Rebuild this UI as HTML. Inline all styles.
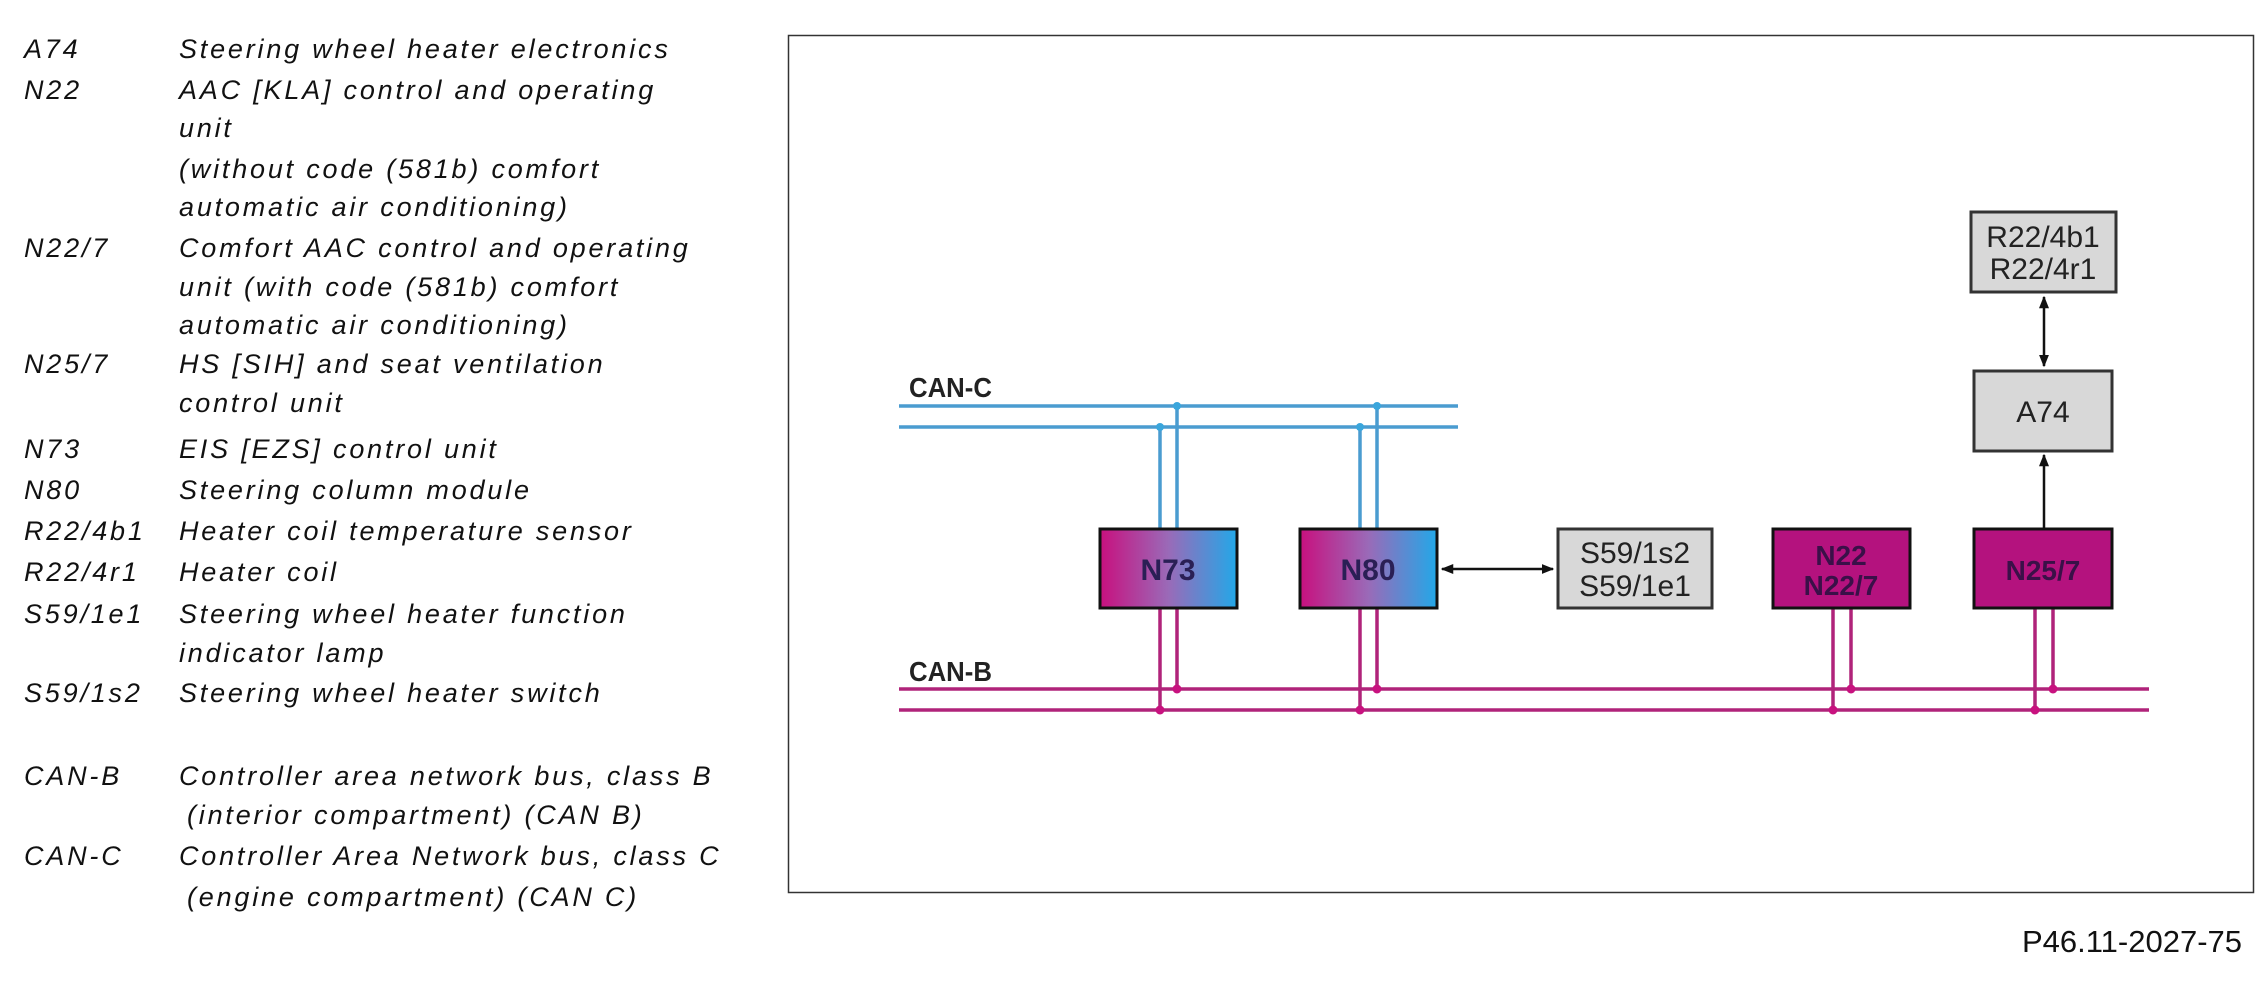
<!DOCTYPE html>
<html><head><meta charset="utf-8"><style>
html,body{margin:0;padding:0;background:#fff;}
body{width:2268px;height:988px;position:relative;overflow:hidden;font-family:"Liberation Sans",sans-serif;}
.l{position:absolute;font-style:italic;font-size:27px;letter-spacing:2.8px;color:#111;white-space:nowrap;line-height:30px;}
</style></head><body>
<div class="l" style="left:24px;top:34px">A74</div><div class="l" style="left:179px;top:34px">Steering wheel heater electronics</div>
<div class="l" style="left:24px;top:75px">N22</div><div class="l" style="left:179px;top:75px">AAC [KLA] control and operating</div>
<div class="l" style="left:179px;top:113px">unit</div>
<div class="l" style="left:179px;top:154px">(without code (581b) comfort</div>
<div class="l" style="left:179px;top:192px">automatic air conditioning)</div>
<div class="l" style="left:24px;top:233px">N22/7</div><div class="l" style="left:179px;top:233px">Comfort AAC control and operating</div>
<div class="l" style="left:179px;top:272px">unit (with code (581b) comfort</div>
<div class="l" style="left:179px;top:310px">automatic air conditioning)</div>
<div class="l" style="left:24px;top:349px">N25/7</div><div class="l" style="left:179px;top:349px">HS [SIH] and seat ventilation</div>
<div class="l" style="left:179px;top:388px">control unit</div>
<div class="l" style="left:24px;top:434px">N73</div><div class="l" style="left:179px;top:434px">EIS [EZS] control unit</div>
<div class="l" style="left:24px;top:475px">N80</div><div class="l" style="left:179px;top:475px">Steering column module</div>
<div class="l" style="left:24px;top:516px">R22/4b1</div><div class="l" style="left:179px;top:516px">Heater coil temperature sensor</div>
<div class="l" style="left:24px;top:557px">R22/4r1</div><div class="l" style="left:179px;top:557px">Heater coil</div>
<div class="l" style="left:24px;top:599px">S59/1e1</div><div class="l" style="left:179px;top:599px">Steering wheel heater function</div>
<div class="l" style="left:179px;top:638px">indicator lamp</div>
<div class="l" style="left:24px;top:678px">S59/1s2</div><div class="l" style="left:179px;top:678px">Steering wheel heater switch</div>
<div class="l" style="left:24px;top:761px">CAN-B</div><div class="l" style="left:179px;top:761px">Controller area network bus, class B</div>
<div class="l" style="left:187px;top:800px">(interior compartment) (CAN B)</div>
<div class="l" style="left:24px;top:841px">CAN-C</div><div class="l" style="left:179px;top:841px">Controller Area Network bus, class C</div>
<div class="l" style="left:187px;top:882px">(engine compartment) (CAN C)</div>

<svg width="2268" height="988" style="position:absolute;left:0;top:0" xmlns="http://www.w3.org/2000/svg">
<defs>
<linearGradient id="g" x1="0" x2="1" y1="0" y2="0">
<stop offset="0" stop-color="#c8107e"/><stop offset="0.5" stop-color="#9a6ab8"/><stop offset="1" stop-color="#22a8e8"/>
</linearGradient>
<marker id="a" viewBox="0 0 10 10" refX="9" refY="5" markerWidth="5" markerHeight="5" orient="auto-start-reverse"><path d="M0,1 L10,5 L0,9z" fill="#111"/></marker>
</defs>
<rect x="788.5" y="35.5" width="1465" height="857" fill="none" stroke="#333" stroke-width="1.5"/>
<text x="909" y="397" font-family="Liberation Sans" font-weight="bold" font-size="28" fill="#222" transform="translate(909,0) scale(0.92,1) translate(-909,0)">CAN-C</text>
<text x="909" y="681" font-family="Liberation Sans" font-weight="bold" font-size="28" fill="#222" transform="translate(909,0) scale(0.92,1) translate(-909,0)">CAN-B</text>
<g stroke="#4a9cd0" stroke-width="3.5">
<line x1="899" y1="406" x2="1458" y2="406"/><line x1="899" y1="427" x2="1458" y2="427"/>
<line x1="1160" y1="427" x2="1160" y2="528"/><line x1="1177" y1="406" x2="1177" y2="528"/>
<line x1="1360" y1="427" x2="1360" y2="528"/><line x1="1377" y1="406" x2="1377" y2="528"/>
</g>
<g fill="#3aa6dc"><circle cx="1160" cy="427" r="4"/><circle cx="1177" cy="406" r="4"/><circle cx="1360" cy="427" r="4"/><circle cx="1377" cy="406" r="4"/></g>
<g stroke="#b0237a" stroke-width="3.5">
<line x1="899" y1="689" x2="2149" y2="689"/><line x1="899" y1="710" x2="2149" y2="710"/>
<line x1="1160" y1="608" x2="1160" y2="710"/><line x1="1177" y1="608" x2="1177" y2="689"/>
<line x1="1360" y1="608" x2="1360" y2="710"/><line x1="1377" y1="608" x2="1377" y2="689"/>
<line x1="1833" y1="608" x2="1833" y2="710"/><line x1="1851" y1="608" x2="1851" y2="689"/>
<line x1="2035" y1="608" x2="2035" y2="710"/><line x1="2053" y1="608" x2="2053" y2="689"/>
</g>
<g fill="#c8127f"><circle cx="1160" cy="710" r="4.5"/><circle cx="1177" cy="689" r="4.5"/><circle cx="1360" cy="710" r="4.5"/><circle cx="1377" cy="689" r="4.5"/><circle cx="1833" cy="710" r="4.5"/><circle cx="1851" cy="689" r="4.5"/><circle cx="2035" cy="710" r="4.5"/><circle cx="2053" cy="689" r="4.5"/></g>
<g stroke="#111" stroke-width="3">
<rect x="1100" y="529" width="137" height="79" fill="url(#g)"/>
<rect x="1300" y="529" width="137" height="79" fill="url(#g)"/>
<rect x="1773" y="529" width="137" height="79" fill="#b4127e"/>
<rect x="1974" y="529" width="138" height="79" fill="#b4127e"/>
<rect x="1558" y="529" width="154" height="79" fill="#d8d8d8" stroke="#333"/>
<rect x="1974" y="371" width="138" height="80" fill="#d8d8d8" stroke="#333"/>
<rect x="1971" y="212" width="145" height="80" fill="#d8d8d8" stroke="#333"/>
</g>
<g stroke="#111" stroke-width="2.5" fill="none">
<line x1="1442" y1="569" x2="1553" y2="569" marker-start="url(#a)" marker-end="url(#a)"/>
<line x1="2044" y1="528" x2="2044" y2="455" marker-end="url(#a)"/>
<line x1="2044" y1="366" x2="2044" y2="297" marker-start="url(#a)" marker-end="url(#a)"/>
</g>
<g font-family="Liberation Sans" font-size="30" text-anchor="middle">
<text x="1168" y="580" font-weight="bold" fill="#2a1f55">N73</text>
<text x="1368" y="580" font-weight="bold" fill="#2a1f55">N80</text>
<text x="1841" y="565" font-weight="bold" fill="#3a1048" font-size="28">N22</text>
<text x="1841" y="595" font-weight="bold" fill="#3a1048" font-size="28">N22/7</text>
<text x="2043" y="580" font-weight="bold" fill="#3a1048" font-size="28">N25/7</text>
<text x="1635" y="563" fill="#222">S59/1s2</text>
<text x="1635" y="596" fill="#222">S59/1e1</text>
<text x="2043" y="422" fill="#222">A74</text>
<text x="2043" y="247" fill="#222">R22/4b1</text>
<text x="2043" y="279" fill="#222">R22/4r1</text>
</g>
<text x="2242" y="952" font-family="Liberation Sans" font-size="31" text-anchor="end" fill="#111">P46.11-2027-75</text>
</svg>
</body></html>
